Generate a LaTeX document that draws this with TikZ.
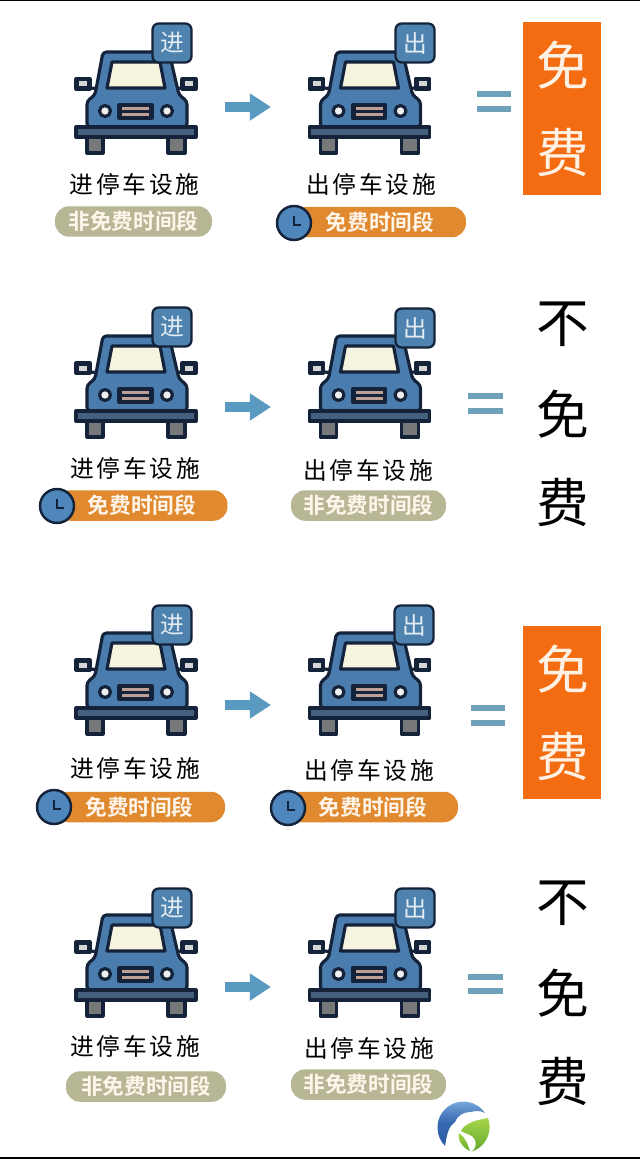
\documentclass[tikz,border=0pt]{standalone}
\usepackage{fontspec}
\usepackage{tikz}
\usetikzlibrary{arrows.meta}
\newfontfamily\cjkreg[LetterSpace=12]{Noto Sans CJK SC}
\newfontfamily\cjkplain{Noto Sans CJK SC}
\newfontfamily\cjkbold[LetterSpace=0]{Noto Sans CJK SC Bold}
\definecolor{carblue}{HTML}{4A7DAD}
\definecolor{inkdark}{HTML}{14233A}
\definecolor{glassy}{HTML}{F6F4DE}
\definecolor{bumperblue}{HTML}{45607F}
\definecolor{wheelgrey}{HTML}{77787A}
\definecolor{pillolive}{HTML}{B7B796}
\definecolor{pillorange}{HTML}{E0892E}
\definecolor{clockblue}{HTML}{4F86BC}
\definecolor{badgeblue}{HTML}{4F83AF}
\definecolor{arrowblue}{HTML}{5A9AC0}
\definecolor{eqblue}{HTML}{6FA2BA}
\definecolor{boxorange}{HTML}{F36C12}
\definecolor{grillepink}{HTML}{BFA096}
\definecolor{logoblue}{HTML}{2A5CA8}
\definecolor{logosky}{HTML}{7FB2E0}
\definecolor{logolime}{HTML}{A6D64A}
\definecolor{logogreen}{HTML}{62A82C}
\tikzset{
  carpart/.style={draw=inkdark,line width=1.8pt,line join=round},
  badge/.style={draw=inkdark,line width=1.3pt,fill=badgeblue,rounded corners=3.5pt,minimum size=0.78cm,inner sep=0pt,text=white!85!badgeblue,font=\cjkplain\fontsize{13.5}{14}\selectfont},
  carlabel/.style={inner sep=0pt,text=black,font=\cjkreg\fontsize{13.5}{14}\selectfont},
  pill/.style={rounded corners=8pt,minimum height=0.61cm,inner sep=0pt,text=white!92!orange,font=\cjkbold\fontsize{12.3}{14}\selectfont},
  pillgrey/.style={pill,fill=pillolive},
  pillhot/.style={pill,fill=pillorange},
  clockface/.style={circle,draw=inkdark,line width=1.4pt,fill=clockblue,minimum size=0.68cm,inner sep=0pt},
  flowarrow/.style={line width=6.2pt,draw=arrowblue,-{Triangle[length=12pt,width=14.7pt]}},
  eqbar/.style={line width=3pt,draw=eqblue},
  bigword/.style={inner sep=0pt,text=black,font=\cjkplain\fontsize{30}{32}\selectfont},
  freebox/.style={fill=boxorange,minimum width=1.56cm,minimum height=3.46cm,inner sep=0pt},
  freeword/.style={inner sep=0pt,text=white!90!orange,font=\cjkplain\fontsize{30}{32}\selectfont},
  car/.pic={
    \draw [carpart,fill=wheelgrey] (-49,-4) rectangle (-33,-21);
    \draw [carpart,fill=wheelgrey] (32,-4) rectangle (49,-21);
    \draw [carpart] (-45,44) -- (-36,43);
    \draw [carpart] (45,44) -- (36,43);
    \draw [carpart,fill=inkdark] (-60,53) rectangle (-46,43);
    \draw [carpart,fill=inkdark] (60,53) rectangle (46,43);
    \fill [white!70!wheelgrey] (-57,50.5) rectangle (-49,45.5);
    \fill [white!70!wheelgrey] (57,50.5) rectangle (49,45.5);
    \draw [carpart,fill=carblue,rounded corners=2pt] (-49,5) -- (-49,31) -- (-41,37) -- (-33,80) -- (33,80) -- (43,37) -- (51,31) -- (51,5) -- cycle;
    \draw [carpart,fill=glassy] (-29,44) -- (-24,70) -- (24,70) -- (29,44) -- cycle;
    \draw [carpart,fill=white!88!wheelgrey] (-31,21) circle (5.5);
    \draw [carpart,fill=white!88!wheelgrey] (31,21) circle (5.5);
    \draw [carpart,fill=inkdark] (-17,27) rectangle (16,14);
    \draw [line width=1.5pt,draw=grillepink] (-14,23.8) -- (13,23.8);
    \draw [line width=1.5pt,draw=grillepink] (-14,17.2) -- (13,17.2);
    \draw [carpart,fill=bumperblue] (-60,5) rectangle (60,-5);
  },
  clock/.pic={
    \node [clockface] (face) at (0,0) {};
    \draw [inkdark,line width=1.2pt,line join=miter] (0,7) -- (0,-2) -- (7,-2);
  }
}
\begin{document}
\begin{tikzpicture}[x=0.02cm,y=0.02cm]
\useasboundingbox (0,0) rectangle (640,-1159);
\fill [white] (0,0) rectangle (640,-1159);
\draw [black,line width=1pt] (0,-0.5) -- (640,-0.5);
\draw [black,line width=1pt] (0,-1158) -- (640,-1158);
% row 1
\pic at (136,-132) {car};
\pic at (369.5,-132) {car};
\node [badge] (in1) at (172,-43) {进};
\node [badge] (out1) at (415,-43) {出};
\node [carlabel] (inlabel1) at (134.5,-184) {进停车设施};
\node [carlabel] (outlabel1) at (371,-184) {出停车设施};
\node [pillgrey,minimum width=3.14cm] (inpill1) at (133.5,-221.5) {非免费时间段};
\node [pillhot,minimum width=3.44cm] (outpill1) at (380,-222) {免费时间段};
\pic at (294,-223) {clock};
\coordinate (from1) at (225,-107);
\coordinate (to1) at (271,-107);
\draw [flowarrow] (from1) -- (to1);
\draw [eqbar] (477,-94) -- (511,-94);
\draw [eqbar] (477,-109) -- (511,-109);
\node [freebox] (free1) at (562,-108.5) {};
\node [freeword] (mian1) at (563,-65) {免};
\node [freeword] (fei1) at (563,-152) {费};
% row 2
\pic at (136,-416) {car};
\pic at (369.5,-416) {car};
\node [badge] (in2) at (172,-327) {进};
\node [badge] (out2) at (415,-328) {出};
\node [carlabel] (inlabel2) at (135,-468) {进停车设施};
\node [carlabel] (outlabel2) at (368,-470) {出停车设施};
\node [pillhot,minimum width=3.42cm] (inpill2) at (142,-505.5) {免费时间段};
\pic at (57,-506) {clock};
\node [pillgrey,minimum width=3.1cm] (outpill2) at (368.5,-505.5) {非免费时间段};
\coordinate (from2) at (225,-407);
\coordinate (to2) at (271,-407);
\draw [flowarrow] (from2) -- (to2);
\draw [eqbar] (468,-396) -- (503,-396);
\draw [eqbar] (468,-411) -- (503,-411);
\node [bigword] (bu2) at (563,-324) {不};
\node [bigword] (mian2) at (563,-414) {免};
\node [bigword] (fei2) at (563,-502) {费};
% row 3
\pic at (136,-713) {car};
\pic at (369.5,-713) {car};
\node [badge] (in3) at (172,-625) {进};
\node [badge] (out3) at (414,-625) {出};
\node [carlabel] (inlabel3) at (135,-768) {进停车设施};
\node [carlabel] (outlabel3) at (369,-770) {出停车设施};
\node [pillhot,minimum width=3.42cm] (inpill3) at (139.5,-807) {免费时间段};
\pic at (54,-807) {clock};
\node [pillhot,minimum width=3.4cm] (outpill3) at (373,-807) {免费时间段};
\pic at (288,-808) {clock};
\coordinate (from3) at (225,-705);
\coordinate (to3) at (271,-705);
\draw [flowarrow] (from3) -- (to3);
\draw [eqbar] (471,-708) -- (505,-708);
\draw [eqbar] (471,-723) -- (505,-723);
\node [freebox] (free3) at (562,-712.5) {};
\node [freeword] (mian3) at (563,-669) {免};
\node [freeword] (fei3) at (563,-756) {费};
% row 4
\pic at (136,-995) {car};
\pic at (369.5,-995) {car};
\node [badge] (in4) at (172,-908) {进};
\node [badge] (out4) at (415,-908) {出};
\node [carlabel] (inlabel4) at (135,-1046) {进停车设施};
\node [carlabel] (outlabel4) at (369,-1048) {出停车设施};
\node [pillgrey,minimum width=3.2cm] (inpill4) at (146,-1086.5) {非免费时间段};
\node [pillgrey,minimum width=3.1cm] (outpill4) at (368.5,-1084.5) {非免费时间段};
\coordinate (from4) at (225,-987);
\coordinate (to4) at (271,-987);
\draw [flowarrow] (from4) -- (to4);
\draw [eqbar] (468,-977) -- (503,-977);
\draw [eqbar] (468,-991) -- (503,-991);
\node [bigword] (bu4) at (563,-903) {不};
\node [bigword] (mian4) at (563,-993) {免};
\node [bigword] (fei4) at (563,-1081) {费};
% logo
\begin{scope}[shift={(463,-1128)}]
\shade [bottom color=logoblue,top color=logosky,middle color=logoblue!85!logosky] (22,15) arc (34:225:26) .. controls (-16,-5) and (-14,2) .. (-8,6) .. controls (-6,12) and (0,16) .. (7,16) .. controls (12,17) and (17,18) .. (22,15) -- cycle;
\shade [top color=logolime,bottom color=logogreen] (25,10) arc (20:-72:26) .. controls (12,-22) and (14,-16) .. (12,-12) .. controls (10,-6) and (2,-6) .. (-2,-3) .. controls (1,4) and (12,8) .. (25,10) -- cycle;
\shade [top color=logolime,bottom color=logogreen] (-4,-5) .. controls (-6,-12) and (0,-20) .. (7,-23) .. controls (4,-16) and (4,-11) .. (-4,-5) -- cycle;
\end{scope}
\end{tikzpicture}
\end{document}
